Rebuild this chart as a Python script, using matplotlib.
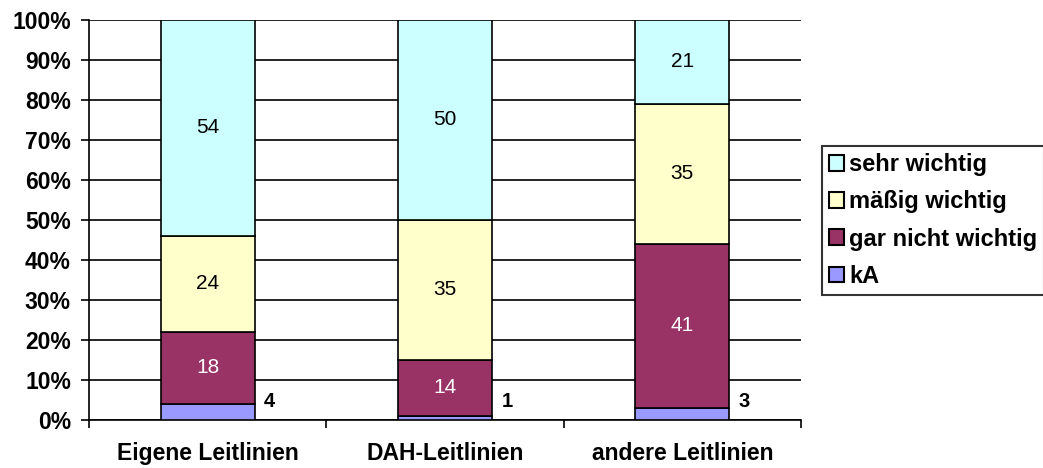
import matplotlib
matplotlib.use("Agg")
import matplotlib.pyplot as plt
from matplotlib.patches import Patch

plt.rcParams['font.family'] = ['Liberation Sans', 'DejaVu Sans']

categories = ['Eigene Leitlinien', 'DAH-Leitlinien', 'andere Leitlinien']
series_names = ['kA', 'gar nicht wichtig', 'mäßig wichtig', 'sehr wichtig']
kA = [4, 1, 3]
gar_nicht = [18, 14, 41]
maessig = [24, 35, 35]
sehr = [54, 50, 21]
colors = ['#9999FF', '#993366', '#FFFFCC', '#CCFFFF']

fig = plt.figure(figsize=(10.43, 4.68), dpi=100)
ax = fig.add_axes([0.0853, 0.1026, 0.6827, 0.8547])

x = list(range(len(categories)))
width = 0.395
bottom = [0, 0, 0]
for vals, name, col in zip([kA, gar_nicht, maessig, sehr], series_names, colors):
    ax.bar(x, vals, width, bottom=bottom, color=col, edgecolor='black',
           linewidth=1.2, label=name, zorder=3)
    for i, v in enumerate(vals):
        if name == 'kA':
            # outside labels sit beside the bar at a common height
            ax.text(i + width / 2 + 0.04, 4.5, str(v), ha='left', va='center',
                    fontsize=14.5, fontweight='bold', zorder=4)
        else:
            tc = 'white' if name == 'gar nicht wichtig' else 'black'
            ax.text(i, bottom[i] + v / 2, str(v), ha='center', va='center',
                    fontsize=15, color=tc, zorder=4)
    bottom = [b + v for b, v in zip(bottom, vals)]

ax.set_xlim(-0.5, 2.5)
ax.set_ylim(0, 100)
ax.set_yticks(range(0, 101, 10))
ax.set_yticklabels([f'{t}%' for t in range(0, 101, 10)], fontsize=16.5, fontweight='bold')
ax.yaxis.grid(True, color='black', linewidth=1.2, zorder=0)
ax.set_xticks([-0.5, 0.5, 1.5, 2.5])
ax.set_xticklabels([])
ax.set_xticks(x, minor=True)
ax.set_xticklabels(categories, minor=True, fontsize=16.5, fontweight='bold')
ax.tick_params(axis='x', which='minor', length=0, pad=16)
ax.tick_params(axis='x', which='major', length=6, width=1.2, direction='out')
ax.tick_params(axis='y', length=6, width=1.2, direction='out', pad=7)
for s in ['top', 'right']:
    ax.spines[s].set_visible(False)
for s in ['left', 'bottom']:
    ax.spines[s].set_linewidth(1.2)

handles = [Patch(facecolor=c, edgecolor='black', linewidth=1.5, label=n)
           for c, n in zip(colors[::-1], series_names[::-1])]
leg = fig.legend(handles=handles, loc='center left', bbox_to_anchor=(0.788, 0.529),
                 frameon=True, fancybox=False, edgecolor='black',
                 prop={'size': 17, 'weight': 'bold'}, handlelength=0.65,
                 handleheight=0.65, handletextpad=0.2, borderpad=0.3, labelspacing=0.6,
                 borderaxespad=0)
leg.get_frame().set_linewidth(1.5)

fig.savefig('out.png', dpi=100)
